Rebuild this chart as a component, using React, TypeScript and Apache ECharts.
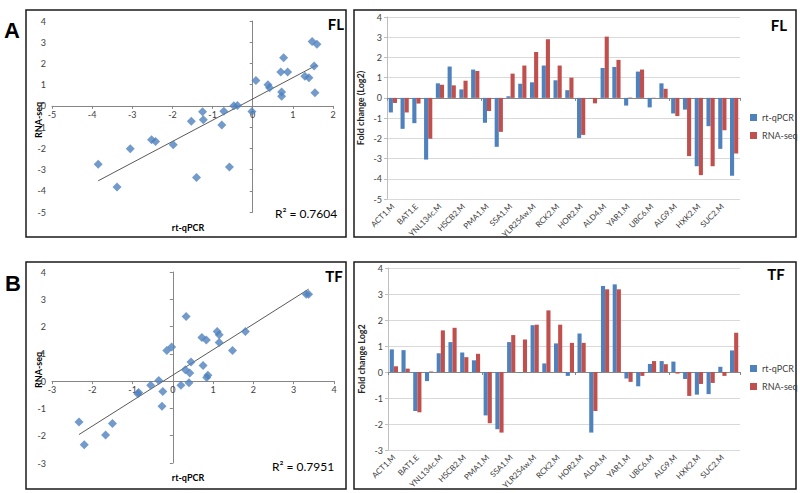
import { useEffect, useRef } from 'react';
import * as echarts from 'echarts';

// gene names; only every second one is printed on the axis in the original
const categories = [
  'ACT1.M', '', 'BAT1.E', '', 'YNL134c.M', '', 'HSCB2.M', '', 'PMA1.M', '',
  'SSA1.M', '', 'YLR254w.M', '', 'RCK2.M', '', 'HOR2.M', '', 'ALD4.M', '',
  'YAR1.M', '', 'UBC6.M', '', 'ALG9.M', '', 'HXK2.M', '', 'SUC2.M', '',
];

// FL (Log2 fold change)
const flQpcr = [
  -0.72, -1.53, -1.25, -3.05, 0.72, 1.55, 0.42, 1.4, -1.23, -2.42,
  0.08, 0.7, 0.77, 1.6, 0.87, 0.38, -1.98, -0.02, 1.48, 1.53,
  -0.38, 1.3, -0.47, 0.72, -0.77, -0.58, -3.38, -1.4, -2.52, -3.85,
];
const flRnaseq = [
  -0.25, -0.72, -0.28, -2.02, 0.65, 0.62, 0.85, 1.33, -0.65, -1.68,
  1.2, 1.6, 2.27, 2.9, 1.6, 1.0, -1.83, -0.27, 3.03, 1.88,
  0.02, 1.4, 0.01, 0.45, -0.9, -2.88, -3.82, -3.38, -1.6, -2.75,
];

// TF (Log2 fold change)
const tfQpcr = [
  0.87, 0.84, -1.5, -0.35, 0.72, 1.15, 0.75, 0.45, -1.67, -2.2,
  1.15, -0.03, 1.8, 0.33, 1.1, -0.15, 1.48, -2.33, 3.31, 3.37,
  -0.25, -0.55, 0.31, 0.42, 0.4, -0.27, -0.87, -0.85, 0.2, 0.83,
];
const tfRnaseq = [
  0.22, 0.13, -1.55, 0.02, 1.6, 1.7, 0.57, 0.7, -1.97, -2.33,
  1.42, 1.25, 1.82, 2.37, 1.82, 1.12, 1.12, -1.5, 3.18, 3.18,
  -0.38, -0.15, 0.42, 0.3, -0.06, -0.92, -0.46, -0.42, -0.15, 1.51,
];

const flR2 = 'R² = 0.7604';
const tfR2 = 'R² = 0.7951';

const BLUE = '#4f81bd';
const RED = '#c0504d';
const FONT = 'Lato, "Liberation Sans", sans-serif';

// least-squares trend line between the smallest and largest x
function trend(xs: number[], ys: number[]) {
  const n = xs.length;
  const mx = xs.reduce((a, b) => a + b, 0) / n;
  const my = ys.reduce((a, b) => a + b, 0) / n;
  let sxy = 0;
  let sxx = 0;
  xs.forEach((x, i) => {
    sxy += (x - mx) * (ys[i] - my);
    sxx += (x - mx) * (x - mx);
  });
  const k = sxy / sxx;
  const b = my - k * mx;
  const x0 = Math.min(...xs);
  const x1 = Math.max(...xs);
  return [[x0, k * x0 + b], [x1, k * x1 + b]];
}

const tickLabel = { fontSize: 9, color: '#404040', fontFamily: FONT };

// the x axis is lifted from the grid bottom up to y = 0 of its value axis
function scatterX(gridIndex: number, min: number, max: number, yMin: number, yMax: number, h: number) {
  return {
    type: 'value', gridIndex, min, max, interval: 1,
    offset: -(h * (0 - yMin)) / (yMax - yMin),
    axisLine: { onZero: false, lineStyle: { color: '#868686' } },
    axisTick: { show: true, length: 3, lineStyle: { color: '#868686' } },
    axisLabel: { ...tickLabel, margin: 4 },
    splitLine: { show: false },
  };
}

function scatterY(gridIndex: number, min: number, max: number) {
  return {
    type: 'value', gridIndex, min, max, interval: 1,
    axisLine: { show: true, onZero: true, lineStyle: { color: '#868686' } },
    axisTick: { show: true, length: 3, lineStyle: { color: '#868686' } },
    axisLabel: { ...tickLabel, margin: 6 },
    splitLine: { show: false },
  };
}

function barLabelsX(gridIndex: number) {
  return {
    type: 'category', gridIndex, data: categories, position: 'bottom',
    axisLine: { show: false, onZero: false },
    axisTick: { show: false },
    axisLabel: { ...tickLabel, fontSize: 8, rotate: 45, interval: 1, margin: 6 },
  };
}

function barZeroX(gridIndex: number) {
  return {
    type: 'category', gridIndex, data: categories,
    axisLine: { show: true, onZero: true, lineStyle: { color: '#868686' } },
    axisTick: { show: true, inside: true, length: 3, lineStyle: { color: '#868686' } },
    axisLabel: { show: false },
  };
}

function barY(gridIndex: number, min: number, max: number, name: string) {
  return {
    type: 'value', gridIndex, min, max, interval: 1,
    name, nameLocation: 'middle', nameGap: 22,
    nameTextStyle: { fontSize: 9, fontWeight: 'bold', color: '#262626', fontFamily: FONT },
    axisLine: { show: true, lineStyle: { color: '#bfbfbf' } },
    axisTick: { show: true, length: 3, lineStyle: { color: '#bfbfbf' } },
    axisLabel: { ...tickLabel, margin: 5 },
    splitLine: { show: true, lineStyle: { color: '#d9d9d9' } },
  };
}

function scatterSeries(xs: number[], ys: number[], xAxisIndex: number, yAxisIndex: number) {
  return [
    {
      name: 'points', type: 'scatter', xAxisIndex, yAxisIndex,
      data: xs.map((x, i) => [x, ys[i]]),
      symbol: 'diamond', symbolSize: 9,
      itemStyle: { color: BLUE },
      z: 3,
    },
    {
      name: 'trend', type: 'line', xAxisIndex, yAxisIndex,
      data: trend(xs, ys), symbol: 'none',
      lineStyle: { color: '#595959', width: 1 },
      z: 2,
    },
  ];
}

function barSeries(qpcr: number[], rnaseq: number[], xAxisIndex: number, yAxisIndex: number) {
  return [
    {
      name: 'rt-qPCR', type: 'bar', xAxisIndex, yAxisIndex, data: qpcr,
      itemStyle: { color: BLUE }, barGap: '0%', barCategoryGap: '30%',
    },
    {
      name: 'RNA-seq', type: 'bar', xAxisIndex, yAxisIndex, data: rnaseq,
      itemStyle: { color: RED }, barGap: '0%', barCategoryGap: '30%',
    },
  ];
}

function legend(top: number) {
  return {
    data: ['rt-qPCR', 'RNA-seq'], orient: 'vertical', left: 745, top,
    icon: 'rect', itemWidth: 7, itemHeight: 7, itemGap: 9, selectedMode: false,
    textStyle: { fontSize: 9, color: '#404040', fontFamily: FONT },
  };
}

const box = (x: number, y: number, w: number, h: number) => ({
  type: 'rect', shape: { x, y, width: w, height: h }, silent: true,
  style: { fill: 'none', stroke: '#1a1a1a', lineWidth: 1.5 },
});

const label = (text: string, x: number, y: number, size: number, bold: boolean, rotation = 0) => ({
  type: 'text', x, y, rotation, silent: true,
  style: {
    text, fill: '#000', fontSize: size, fontWeight: bold ? 'bold' : 'normal',
    fontFamily: bold && size > 18 ? 'Arial, "Liberation Sans", sans-serif' : FONT,
    align: 'center', verticalAlign: 'middle',
  },
});

export default function App() {
  const chartRef = useRef<HTMLDivElement>(null);

  useEffect(() => {
    if (!chartRef.current) return;
    const chart = echarts.init(chartRef.current, null, { renderer: 'svg' });

    chart.setOption({
      animation: false,
      backgroundColor: '#fff',
      textStyle: { fontFamily: FONT },
      grid: [
        { left: 52, top: 21, width: 281, height: 191 },
        { left: 387, top: 17, width: 353, height: 182 },
        { left: 52, top: 272, width: 282, height: 191 },
        { left: 388, top: 268, width: 352, height: 182 },
      ],
      xAxis: [
        scatterX(0, -5, 2, -5, 4, 191),
        barLabelsX(1),
        barZeroX(1),
        scatterX(2, -3, 4, -3, 4, 191),
        barLabelsX(3),
        barZeroX(3),
      ],
      yAxis: [
        scatterY(0, -5, 4),
        barY(1, -5, 4, 'Fold change (Log2)'),
        scatterY(2, -3, 4),
        barY(3, -3, 4, 'Fold change Log2'),
      ],
      legend: [legend(108), legend(359)],
      series: [
        ...scatterSeries(flQpcr, flRnaseq, 0, 0),
        ...barSeries(flQpcr, flRnaseq, 1, 1),
        ...scatterSeries(tfQpcr, tfRnaseq, 3, 2),
        ...barSeries(tfQpcr, tfRnaseq, 4, 3),
      ],
      graphic: [
        box(26, 10, 320, 227),
        box(354, 10, 442, 227),
        box(26, 262, 320, 227),
        box(354, 262, 442, 227),
        label('A', 12, 30, 22, true),
        label('B', 13, 283, 22, true),
        label('FL', 336, 24, 15, true),
        label('FL', 779, 25, 15, true),
        label('TF', 334, 276, 15, true),
        label('TF', 776, 274, 15, true),
        label('rt-qPCR', 188, 227, 9, true),
        label('rt-qPCR', 188, 477, 9, true),
        label('RNA-seq', 38, 120, 9, true, Math.PI / 2),
        label('RNA-seq', 38, 370, 9, true, Math.PI / 2),
        label(flR2, 306, 213, 12, false),
        label(tfR2, 303, 466, 12, false),
      ],
    });

    return () => {
      chart.dispose();
    };
  }, []);

  return (
    <div
      ref={chartRef}
      style={{ position: 'absolute', left: 0, top: 0, width: 800, height: 493 }}
    />
  );
}
